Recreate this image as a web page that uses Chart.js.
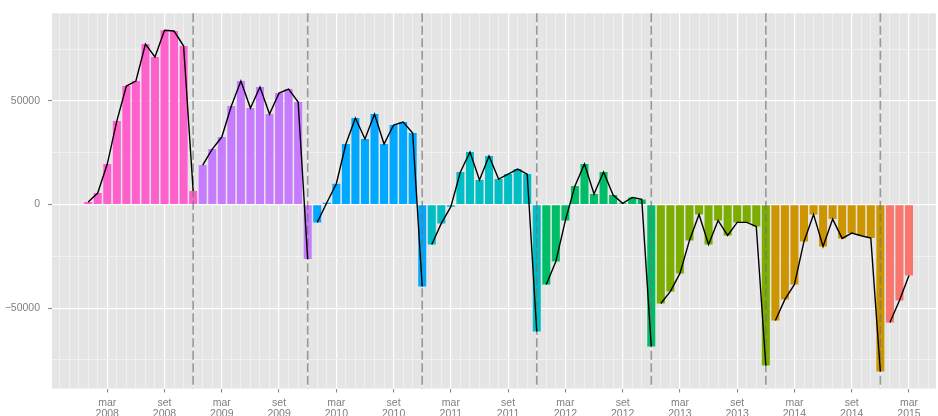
<!DOCTYPE html>
<html>
<head>
<meta charset="utf-8">
<script src="https://cdn.jsdelivr.net/npm/chart.js@4"></script>
<style>
    body { margin: 0; background: #ffffff; }
    canvas { display: block; }
</style>
</head>
<body>
<canvas id="saldoChart" width="938" height="416"></canvas>
<script>
// Data: monthly cumulative balance, Jan 2008 to Mar 2015
const years = [2008, 2009, 2010, 2011, 2012, 2013, 2014, 2015];
const monthNames = ["jan", "fev", "mar", "abr", "mai", "jun", "jul", "ago", "set", "out", "nov", "dez"];
const labelMonths = ["mar", "set"];

const saldo2008 = [1200, 5550, 19560, 40330, 57240, 59650, 77520, 71240, 84120, 83800, 76560, 6520];
const saldo2009 = [19080, 26810, 32600, 47580, 59650, 46610, 56750, 43710, 53850, 55790, 49500, -26320];
const saldo2010 = [-8610, 900, 10060, 29220, 41780, 31640, 43710, 29220, 38400, 39850, 34530, -39530];
const saldo2011 = [-19240, -9100, -1000, 15700, 25360, 11830, 23430, 12320, 14730, 17150, 14730, -61260];
const saldo2012 = [-38560, -27450, -7650, 8940, 19560, 5070, 15700, 4590, 600, 3460, 2500, -68510];
const saldo2013 = [-47740, -41940, -33250, -17310, -4750, -19240, -7650, -14890, -8610, -8610, -10550, -77680];
const saldo2014 = [-55950, -45800, -38560, -17790, -4750, -20210, -7000, -16340, -13770, -15050, -16180, -80580];
const saldo2015 = [-56910, -46290, -34210];

const yearColors = ["#FF61CC", "#C77CFF", "#00A9FF", "#00BFC4", "#00BE67", "#7CAE00", "#CD9600", "#F8766D"];

document.addEventListener("DOMContentLoaded", function() {
    const series = [saldo2008, saldo2009, saldo2010, saldo2011, saldo2012, saldo2013, saldo2014, saldo2015];

    // Flatten into points on a month index axis (0 = jan 2008)
    const points = [];
    const barColors = [];
    series.forEach((vals, yi) => {
        vals.forEach((v, m) => {
            points.push({ x: yi * 12 + m, y: v, month: m, year: years[yi] });
            barColors.push(yearColors[yi]);
        });
    });

    // Year breaks: the december of each year that has a following year
    const breaks = points.filter(p => p.month === 11).map(p => p.x);

    const textGrey = "#7F7F7F";
    const font = { family: "'Liberation Sans', Arial, sans-serif", size: 10.5, lineHeight: 1.0 };

    function monthOf(v) { return ((v % 12) + 12) % 12; }
    function isMajorX(v) { return labelMonths.includes(monthNames[monthOf(v)]); }
    function isMajorY(v) { return v % 50000 === 0; }

    // grid helpers; context may come without a tick
    function tickVal(c) { return c && c.tick ? c.tick.value : null; }
    function gridX(c, major, minor) {
        const v = tickVal(c);
        return v !== null && isMajorX(v) ? major : minor;
    }
    function gridY(c, major, minor) {
        const v = tickVal(c);
        return v !== null && isMajorY(v) ? major : minor;
    }

    // Panel background and dashed year breaks
    const panelPlugin = {
        id: "panel",
        beforeDraw(chart) {
            const a = chart.chartArea;
            const c = chart.ctx;
            c.save();
            c.fillStyle = "#E5E5E5";
            c.fillRect(a.left, a.top, a.right - a.left, a.bottom - a.top);
            c.restore();
        },
        afterDatasetDraw(chart, args) {
            if (args.meta.type !== "bar") return;
            const a = chart.chartArea;
            const c = chart.ctx;
            const xs = chart.scales.x;
            c.save();
            c.strokeStyle = "rgba(115,115,115,0.7)";
            c.lineWidth = 1.6;
            c.setLineDash([9, 3.5]);
            breaks.forEach(b => {
                const px = xs.getPixelForValue(b);
                c.beginPath();
                c.moveTo(px, a.top);
                c.lineTo(px, a.bottom);
                c.stroke();
            });
            c.restore();
        }
    };

    const ctx = document.getElementById("saldoChart").getContext("2d");
    new Chart(ctx, {
        data: {
            datasets: [
                {
                    type: "line",
                    data: points,
                    borderColor: "#000000",
                    borderWidth: 1.4,
                    pointRadius: 0,
                    tension: 0,
                    order: 1,
                    segment: {
                        // break the line between december and january
                        borderColor: c => points[c.p0DataIndex].month === 11 ? "rgba(0,0,0,0)" : "#000000"
                    }
                },
                {
                    type: "bar",
                    data: points,
                    backgroundColor: barColors,
                    borderWidth: 0,
                    barPercentage: 0.84,
                    categoryPercentage: 1.0,
                    order: 2
                }
            ]
        },
        options: {
            responsive: false,
            animation: false,
            layout: { padding: { top: 13.3, right: 2, bottom: 0, left: 0 } },
            plugins: {
                legend: { display: false },
                tooltip: { enabled: false }
            },
            scales: {
                x: {
                    type: "linear",
                    offset: false,
                    min: -3.79,
                    max: 88.83,
                    afterBuildTicks: scale => {
                        const ticks = [];
                        for (let v = Math.ceil(scale.min); v <= scale.max; v++) ticks.push({ value: v });
                        scale.ticks = ticks;
                    },
                    afterFit: scale => { scale.height = 27.5; },
                    border: { display: false },
                    grid: {
                        offset: false,
                        color: c => gridX(c, "#FFFFFF", "#F2F2F2"),
                        lineWidth: c => gridX(c, 1.2, 0.9),
                        tickColor: c => gridX(c, textGrey, "rgba(0,0,0,0)"),
                        tickLength: 4,
                        tickWidth: 1
                    },
                    ticks: {
                        autoSkip: false,
                        maxRotation: 0,
                        padding: 5.5,
                        color: textGrey,
                        font: font,
                        callback: v => {
                            if (!isMajorX(v)) return "";
                            return [monthNames[monthOf(v)], String(years[0] + Math.floor(v / 12))];
                        }
                    }
                },
                y: {
                    min: -88800,
                    max: 92350,
                    afterBuildTicks: scale => {
                        const ticks = [];
                        for (let v = -75000; v <= 75000; v += 25000) ticks.push({ value: v });
                        scale.ticks = ticks;
                    },
                    afterFit: scale => { scale.width = 52; },
                    border: { display: false },
                    grid: {
                        color: c => gridY(c, "#FFFFFF", "#F2F2F2"),
                        lineWidth: c => gridY(c, 1.2, 0.9),
                        tickColor: c => gridY(c, textGrey, "rgba(0,0,0,0)"),
                        tickLength: 4,
                        tickWidth: 1
                    },
                    ticks: {
                        padding: 8,
                        color: textGrey,
                        font: font,
                        callback: v => {
                            if (!isMajorY(v)) return "";
                            return v < 0 ? "\u2212" + Math.abs(v) : String(v);
                        }
                    }
                }
            }
        },
        plugins: [panelPlugin]
    });
});
</script>
</body>
</html>
